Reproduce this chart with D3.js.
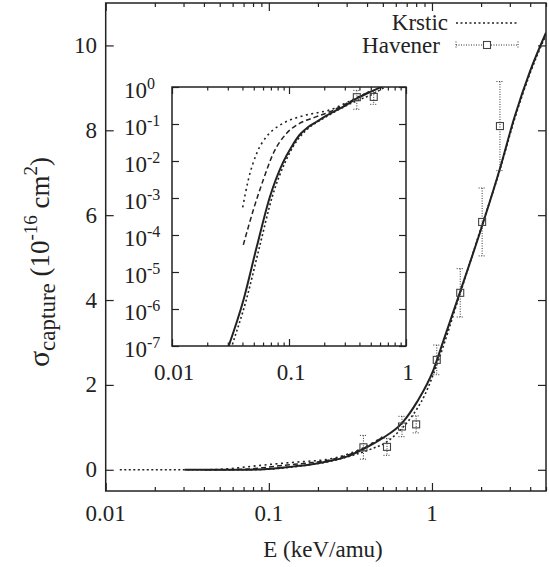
<!DOCTYPE html>
<html>
<head>
<meta charset="utf-8">
<script src="https://cdn.jsdelivr.net/npm/d3@7"></script>
<style>
body { margin: 0; background: #fff; }
</style>
</head>
<body>
<script>
// solid curve (theory), sigma in 1e-16 cm^2
var solidE = [0.0305, 0.0407, 0.053, 0.0688, 0.0894, 0.105, 0.124, 0.145, 0.172, 0.224, 0.30, 0.38, 0.50, 0.655, 0.81, 1.02, 1.18, 1.49, 2.03, 2.61, 3.2, 4.0, 5.0];
var solidV = [1e-7, 1.7e-6, 4.8e-5, 1.1e-3, 9.5e-3, 0.024, 0.052, 0.082, 0.115, 0.19, 0.31, 0.49, 0.75, 1.10, 1.60, 2.35, 3.06, 4.2, 5.75, 7.1, 8.3, 9.4, 10.3];
// Krstic (dotted, just under the solid one)
var krsticE = [0.0122, 0.02, 0.0325, 0.043, 0.056, 0.072, 0.093, 0.108, 0.124, 0.145, 0.172, 0.224, 0.30, 0.43, 0.52, 0.61, 0.75, 0.9, 1.1, 1.5, 2.0, 2.6, 3.2, 4.0, 5.0];
var krsticV = [1e-12, 1e-9, 1e-7, 1.7e-6, 4.8e-5, 1.1e-3, 9.5e-3, 0.024, 0.045, 0.075, 0.11, 0.18, 0.30, 0.5, 0.64, 0.86, 1.25, 1.75, 2.6, 4.2, 5.7, 7.05, 8.25, 9.35, 10.25];
// other two curves (dashed, dotted) only seen in the inset
var dashE = [0.0407, 0.0496, 0.0603, 0.0735, 0.0954, 0.124, 0.172, 0.224, 0.30, 0.40, 0.50];
var dashV = [5.4e-5, 4.8e-4, 3.1e-3, 0.0162, 0.056, 0.105, 0.158, 0.214, 0.34, 0.55, 0.77];
var dotE = [0.0402, 0.0449, 0.053, 0.0644, 0.0837, 0.124, 0.172, 0.224, 0.30, 0.40, 0.50];
var dotV = [5.6e-4, 3.1e-3, 0.0162, 0.046, 0.093, 0.158, 0.20, 0.24, 0.36, 0.56, 0.78];
// Havener experiment
var havE = [0.38, 0.53, 0.655, 0.80, 1.07, 1.49, 2.03, 2.61];
var havV = [0.53, 0.54, 1.02, 1.07, 2.59, 4.17, 5.84, 8.10];
var havErr = [0.28, 0.2, 0.24, 0.2, 0.35, 0.57, 0.8, 1.05];

var xTicks = [0.01, 0.1, 1];
var yTicks = [0, 2, 4, 6, 8, 10];
var insetYTicks = [0, -1, -2, -3, -4, -5, -6, -7];

var W = 549, H = 567;
var svg = d3.select("body").append("svg").attr("width", W).attr("height", H);

var x = d3.scaleLog().domain([0.01, 5]).range([105.7, 546]);
var y = d3.scaleLinear().domain([-0.5, 11]).range([491, 3]);

var xi = d3.scaleLog().domain([0.01, 1]).range([172, 406]);
var yi = d3.scaleLog().domain([1e-7, 1]).range([346, 87]);

function zip(a, b) { return a.map(function(v, i) { return [v, b[i]]; }); }

function minors(lo, hi) {
    var out = [];
    for (var d = lo; d < hi; d *= 10)
        for (var k = 2; k <= 9; k++) if (k * d <= hi * 1.0001) out.push(k * d);
    return out;
}

function txt(g, size) {
    return g.append("text").style("font-family", "'Liberation Serif'").attr("font-size", size).attr("fill", "#222");
}

var defs = svg.append("defs");
defs.append("clipPath").attr("id", "clipMain").append("rect")
    .attr("x", 105.7).attr("y", 3).attr("width", 546 - 105.7).attr("height", 488);
defs.append("clipPath").attr("id", "clipIn").append("rect")
    .attr("x", 172).attr("y", 87).attr("width", 406 - 172).attr("height", 346 - 87);

var curves = [
    {d: zip(solidE, solidV), dash: null, w: 2},
    {d: zip(krsticE, krsticV), dash: "2,2.5", w: 1.6},
    {d: zip(dashE, dashV), dash: "5,3", w: 1.5},
    {d: zip(dotE, dotV), dash: "2,3.5", w: 1.6}
];

function drawPanel(g, xs, ys, clip, logY) {
    var line = d3.line()
        .x(function(d) { return xs(d[0]); })
        .y(function(d) { return ys(d[1]); })
        .curve(d3.curveMonotoneX);
    var pg = g.append("g").attr("clip-path", "url(#" + clip + ")");
    curves.forEach(function(c) {
        pg.append("path").attr("d", line(c.d))
            .attr("fill", "none").attr("stroke", "#222")
            .attr("stroke-width", c.w)
            .attr("stroke-dasharray", c.dash);
    });
    var pts = zip(havE, havV).map(function(p, i) { return [p[0], p[1], havErr[i]]; });
    if (logY) pts = pts.filter(function(p) { return p[1] <= 1 && p[0] <= 1; });
    var eg = pg.append("g");
    pts.forEach(function(p) {
        var px = xs(p[0]), py = ys(p[1]), y1 = ys(p[1] + p[2]), y0 = ys(p[1] - p[2]);
        eg.append("line").attr("x1", px).attr("x2", px).attr("y1", y1).attr("y2", y0)
            .attr("stroke", "#333").attr("stroke-width", 1).attr("stroke-dasharray", "1,1.5");
        [y0, y1].forEach(function(yy) {
            eg.append("line").attr("x1", px - 3.5).attr("x2", px + 3.5).attr("y1", yy).attr("y2", yy)
                .attr("stroke", "#333").attr("stroke-width", 1).attr("stroke-dasharray", "1,1.5");
        });
        eg.append("rect").attr("x", px - 3.5).attr("y", py - 3.5).attr("width", 7).attr("height", 7)
            .attr("fill", "none").attr("stroke", "#444").attr("stroke-width", 1.1);
    });
}

// ---- main panel
var main = svg.append("g");
drawPanel(main, x, y, "clipMain", false);

var axB = d3.axisBottom(x).tickValues(xTicks).tickSize(-8).tickFormat("");
var axBm = d3.axisBottom(x).tickValues(minors(0.01, 5)).tickSize(-4).tickFormat("");
var axT = d3.axisTop(x).tickValues(xTicks).tickSize(-8).tickFormat("");
var axTm = d3.axisTop(x).tickValues(minors(0.01, 5)).tickSize(-4).tickFormat("");
var axL = d3.axisLeft(y).tickValues(yTicks).tickSize(-8).tickFormat("");
var axR = d3.axisRight(y).tickValues(yTicks).tickSize(-8).tickFormat("");

function styleAxis(g) {
    g.select(".domain").remove();
    g.selectAll("line").attr("stroke", "#222").attr("stroke-width", 1.2);
}
main.append("g").attr("transform", "translate(0,491)").call(axB).call(styleAxis);
main.append("g").attr("transform", "translate(0,491)").call(axBm).call(styleAxis);
main.append("g").attr("transform", "translate(0,3)").call(axT).call(styleAxis);
main.append("g").attr("transform", "translate(0,3)").call(axTm).call(styleAxis);
main.append("g").attr("transform", "translate(105.7,0)").call(axL).call(styleAxis);
main.append("g").attr("transform", "translate(546,0)").call(axR).call(styleAxis);

main.append("rect").attr("x", 105.7).attr("y", 3).attr("width", 546 - 105.7).attr("height", 488)
    .attr("fill", "none").attr("stroke", "#222").attr("stroke-width", 1.5);

xTicks.forEach(function(d) {
    txt(main, 23).attr("x", x(d)).attr("y", 521).attr("text-anchor", "middle").text(d);
});
yTicks.forEach(function(d) {
    txt(main, 23).attr("x", 97).attr("y", y(d) + 7.5).attr("text-anchor", "end").text(d);
});

txt(svg, 23).attr("x", 323).attr("y", 557).attr("text-anchor", "middle").text("E (keV/amu)");

var yl = txt(svg, 27).attr("transform", "translate(49,262) rotate(-90)").attr("text-anchor", "middle");
yl.append("tspan").attr("font-size", 30).text("σ");
yl.append("tspan").attr("font-size", 23).attr("dy", 6).text("capture");
yl.append("tspan").attr("dy", -6).text(" (10");
yl.append("tspan").attr("font-size", 19).attr("dy", -12).text("-16");
yl.append("tspan").attr("dy", 12).text(" cm");
yl.append("tspan").attr("font-size", 19).attr("dy", -12).text("2");
yl.append("tspan").attr("dy", 12).text(")");

// ---- legend
var lg = svg.append("g");
txt(lg, 23).attr("x", 448).attr("y", 30).attr("text-anchor", "end").text("Krstic");
txt(lg, 23).attr("x", 440).attr("y", 53).attr("text-anchor", "end").text("Havener");
lg.append("line").attr("x1", 456).attr("x2", 518).attr("y1", 23).attr("y2", 23)
    .attr("stroke", "#222").attr("stroke-width", 1.6).attr("stroke-dasharray", "2,2.5");
lg.append("line").attr("x1", 456).attr("x2", 518).attr("y1", 45).attr("y2", 45)
    .attr("stroke", "#333").attr("stroke-width", 1).attr("stroke-dasharray", "1,1.5");
[456, 518].forEach(function(xx) {
    lg.append("line").attr("x1", xx).attr("x2", xx).attr("y1", 41.5).attr("y2", 48.5)
        .attr("stroke", "#333").attr("stroke-width", 1).attr("stroke-dasharray", "1,1.5");
});
lg.append("rect").attr("x", 483.5).attr("y", 41.5).attr("width", 7).attr("height", 7)
    .attr("fill", "#fff").attr("stroke", "#444").attr("stroke-width", 1.1);

// ---- inset
var ins = svg.append("g");
ins.append("rect").attr("x", 172).attr("y", 87).attr("width", 234).attr("height", 259).attr("fill", "#fff");
drawPanel(ins, xi, yi, "clipIn", true);

var iB = d3.axisBottom(xi).tickValues(xTicks).tickSize(-7).tickFormat("");
var iBm = d3.axisBottom(xi).tickValues(minors(0.01, 1)).tickSize(-3.5).tickFormat("");
var iT = d3.axisTop(xi).tickValues(xTicks).tickSize(-7).tickFormat("");
var iTm = d3.axisTop(xi).tickValues(minors(0.01, 1)).tickSize(-3.5).tickFormat("");
var yiVals = insetYTicks.map(function(e) { return Math.pow(10, e); });
var iL = d3.axisLeft(yi).tickValues(yiVals).tickSize(-7).tickFormat("");
var iR = d3.axisRight(yi).tickValues(yiVals).tickSize(-7).tickFormat("");
ins.append("g").attr("transform", "translate(0,346)").call(iB).call(styleAxis);
ins.append("g").attr("transform", "translate(0,346)").call(iBm).call(styleAxis);
ins.append("g").attr("transform", "translate(0,87)").call(iT).call(styleAxis);
ins.append("g").attr("transform", "translate(0,87)").call(iTm).call(styleAxis);
ins.append("g").attr("transform", "translate(172,0)").call(iL).call(styleAxis);
ins.append("g").attr("transform", "translate(406,0)").call(iR).call(styleAxis);
ins.append("rect").attr("x", 172).attr("y", 87).attr("width", 234).attr("height", 259)
    .attr("fill", "none").attr("stroke", "#222").attr("stroke-width", 1.5);

xTicks.forEach(function(d) {
    txt(ins, 23).attr("x", xi(d) + 2).attr("y", 380).attr("text-anchor", "middle").text(d);
});
insetYTicks.forEach(function(e) {
    var yy = yi(Math.pow(10, e));
    txt(ins, 23).attr("x", 147).attr("y", yy + 11).attr("text-anchor", "end").text("10");
    txt(ins, 16).attr("x", 147).attr("y", yy + 2).text(e === 0 ? "0" : "-" + (-e));
});
</script>
</body>
</html>
